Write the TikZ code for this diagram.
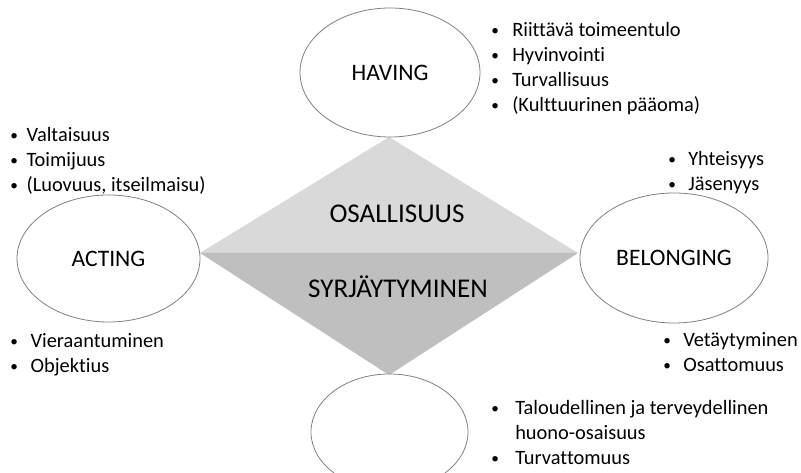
\documentclass[tikz,border=0pt]{standalone}
\usepackage{fontspec}
\setmainfont{Carlito}[Ligatures={NoCommon}]
\usepackage{xcolor}
\usepackage{graphicx}
\usetikzlibrary{shapes.geometric}
\definecolor{upgray}{HTML}{D9D9D9}
\definecolor{lowgray}{HTML}{BFBFBF}
\definecolor{rimgray}{HTML}{808080}
\newcommand{\bul}[1]{\makebox[#1][l]{\hspace{0.8pt}\raisebox{0.08em}{\scalebox{0.75}{\textbullet}}}}
\tikzset{
  area/.style={ellipse, draw=rimgray, line width=0.6pt, fill=white, inner sep=0pt, font=\fontsize{17.7}{21}\selectfont},
  title/.style={anchor=base, inner sep=0pt, font=\fontsize{20.3}{24}\selectfont},
  items/.style={anchor=base west, inner sep=0pt, font=\fontsize{15.3}{18.7}\selectfont},
}
\begin{document}
\begin{tikzpicture}[x=0.75pt, y=-0.75pt]
        \clip (0, 0) rectangle (801, 473);
        \coordinate (dtop) at (389, 137);
        \coordinate (dleft) at (200, 253);
        \coordinate (dright) at (578, 253);
        \coordinate (dbottom) at (389, 375);
        \fill[upgray] (dtop) -- (dleft) -- (dright) -- cycle;
        \fill[lowgray] (dleft) -- (dright) -- (dbottom) -- cycle;
        \node[title](osal) at (397, 223) {OSALLISUUS};
        \node[title](syrj) at (398, 298) {SYRJÄYTYMINEN};

        \node[area, minimum width=135pt, minimum height=96.75pt](having) at (390, 72.5) {HAVING};
        \node[area, minimum width=137.25pt, minimum height=95.25pt](acting) at (108.5, 258.5) {ACTING};
        \node[area, minimum width=141pt, minimum height=97.5pt](belonging) at (674, 258) {BELONGING};
        \node[area, minimum width=117.75pt, minimum height=87pt](being) at (389.5, 432) {};

        \node[items](havingplus) at (490, 37) {\begin{tabular}[t]{@{}l@{}}
            \bul{16.5pt}Riittävä toimeentulo\\
            \bul{16.5pt}Hyvinvointi\\
            \bul{16.5pt}Turvallisuus\\
            \bul{16.5pt}(Kulttuurinen pääoma)
        \end{tabular}};
        \node[items](actingplus) at (9, 142) {\begin{tabular}[t]{@{}l@{}}
            \bul{13pt}Valtaisuus\\
            \bul{13pt}Toimijuus\\
            \bul{13pt}(Luovuus, itseilmaisu)
        \end{tabular}};
        \node[items](actingminus) at (9, 348) {\begin{tabular}[t]{@{}l@{}}
            \bul{16pt}Vieraantuminen\\
            \bul{16pt}Objektius
        \end{tabular}};
        \node[items](belongingplus) at (667, 166) {\begin{tabular}[t]{@{}l@{}}
            \bul{15.75pt}Yhteisyys\\
            \bul{15.75pt}Jäsenyys
        \end{tabular}};
        \node[items](belongingminus) at (662, 347) {\begin{tabular}[t]{@{}l@{}}
            \bul{15.75pt}Vetäytyminen\\
            \bul{15.75pt}Osattomuus
        \end{tabular}};
        \node[items](beingminus) at (490, 415) {\begin{tabular}[t]{@{}l@{}}
            \bul{18.75pt}Taloudellinen ja terveydellinen\\
            \hspace*{18.75pt}huono-osaisuus\\
            \bul{18.75pt}Turvattomuus
        \end{tabular}};
    \end{tikzpicture}
\end{document}
